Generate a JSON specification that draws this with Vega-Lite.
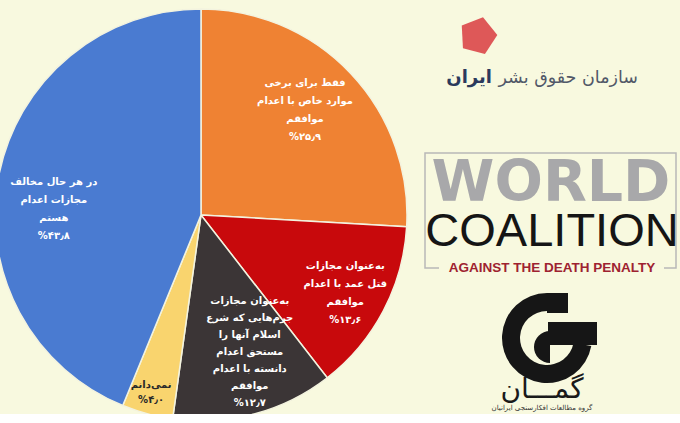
{
  "$schema": "https://vega.github.io/schema/vega-lite/v6.json",
  "background": "#ffffff",
  "padding": 0,
  "spacing": 0,
  "config": {"view": {"stroke": null, "fill": "#f8f9df"}},
  "hconcat": [
    {
      "width": 414,
      "height": 414,
      "data": {"values": [
        {"cat": "orange", "order": 1, "value": 25.9, "label": "فقط برای برخی\nموارد خاص با اعدام\nموافقم\n%۲۵٫۹"},
        {"cat": "red", "order": 2, "value": 13.6, "label": "به‌عنوان مجازات\nقتل عمد با اعدام\nموافقم\n%۱۳٫۶"},
        {"cat": "dark", "order": 3, "value": 12.7, "label": "به‌عنوان مجازات\nجرم‌هایی که شرع\nاسلام آنها را\nمستحق اعدام\nدانسته با اعدام\nموافقم\n%۱۲٫۷"},
        {"cat": "yellow", "order": 4, "value": 4.0, "label": "نمی‌دانم\n%۴٫۰"},
        {"cat": "blue", "order": 5, "value": 43.8, "label": "در هر حال مخالف\nمجازات اعدام\nهستم\n%۴۳٫۸"}
      ]},
      "encoding": {
        "x": {"datum": 201, "type": "quantitative", "scale": {"domain": [0, 414]}, "axis": null},
        "y": {"datum": 215, "type": "quantitative", "scale": {"domain": [0, 414], "reverse": true}, "axis": null},
        "theta": {"field": "value", "type": "quantitative", "stack": true},
        "order": {"field": "order", "type": "quantitative"}
      },
      "layer": [
        {
          "mark": {"type": "arc", "radius": 206, "stroke": "#f3f3df", "strokeWidth": 1.5, "clip": true},
          "encoding": {
            "color": {"field": "cat", "type": "nominal", "legend": null,
              "scale": {"domain": ["orange", "red", "dark", "yellow", "blue"],
                        "range": ["#ef8233", "#c8090c", "#3b3536", "#f9d46e", "#4a7bd1"]}}
          }
        },
        {
          "mark": {"type": "text", "radius": 150, "dx": -5, "dy": -29, "lineBreak": "\n", "font": "DejaVu Sans", "fontWeight": "bold", "fontSize": 10, "lineHeight": 18, "fill": "#ffffff", "baseline": "middle", "align": "center", "clip": true},
          "encoding": {"text": {"condition": {"test": "datum.cat === 'orange'", "field": "label"}, "value": ""}}
        },
        {
          "mark": {"type": "text", "radius": 150, "dy": -4, "lineBreak": "\n", "font": "DejaVu Sans", "fontWeight": "bold", "fontSize": 10, "lineHeight": 18, "fill": "#ffffff", "baseline": "middle", "align": "center", "clip": true},
          "encoding": {"text": {"condition": {"test": "datum.cat === 'blue'", "field": "label"}, "value": ""}}
        },
        {
          "mark": {"type": "text", "radius": 163, "dy": -25, "lineBreak": "\n", "font": "DejaVu Sans", "fontWeight": "bold", "fontSize": 10, "lineHeight": 18, "fill": "#ffffff", "baseline": "middle", "align": "center", "clip": true},
          "encoding": {"text": {"condition": {"test": "datum.cat === 'red'", "field": "label"}, "value": ""}}
        },
        {
          "mark": {"type": "text", "radius": 100, "dx": 23, "dy": -11, "lineBreak": "\n", "font": "DejaVu Sans", "fontWeight": "bold", "fontSize": 10, "lineHeight": 17, "fill": "#ffffff", "baseline": "middle", "align": "center", "clip": true},
          "encoding": {"text": {"condition": {"test": "datum.cat === 'dark'", "field": "label"}, "value": ""}}
        },
        {
          "mark": {"type": "text", "radius": 176, "dx": -4, "lineBreak": "\n", "font": "DejaVu Sans", "fontWeight": "bold", "fontSize": 10, "lineHeight": 15, "fill": "#2a2a2a", "baseline": "middle", "align": "center", "clip": true},
          "encoding": {"text": {"condition": {"test": "datum.cat === 'yellow'", "field": "label"}, "value": ""}}
        }
      ]
    },
    {
      "width": 266,
      "height": 414,
      "data": {"values": [{}]},
      "layer": [
        {
          "mark": {"type": "rect", "fill": null, "stroke": "#b8b8b8", "strokeWidth": 1.5},
          "encoding": {
            "x": {"datum": 11, "type": "quantitative", "scale": {"domain": [0, 266]}, "axis": null},
            "x2": {"datum": 262},
            "y": {"datum": 153, "type": "quantitative", "scale": {"domain": [0, 414], "reverse": true}, "axis": null},
            "y2": {"datum": 268}
          }
        },
        {
          "mark": {"type": "rect", "fill": "#f8f9df", "stroke": null},
          "encoding": {
            "x": {"datum": 25, "type": "quantitative", "scale": {"domain": [0, 266]}, "axis": null},
            "x2": {"datum": 250},
            "y": {"datum": 261, "type": "quantitative", "scale": {"domain": [0, 414], "reverse": true}, "axis": null},
            "y2": {"datum": 276}
          }
        },
        {
          "mark": {"type": "point", "shape": "M0,-1L0.951,-0.309L0.588,0.809L-0.588,0.809L-0.951,-0.309Z", "size": 1500, "angle": 15, "filled": true, "fill": "#de5858", "opacity": 1, "stroke": null},
          "encoding": {
            "x": {"datum": 64, "type": "quantitative", "scale": {"domain": [0, 266]}, "axis": null},
            "y": {"datum": 36, "type": "quantitative", "scale": {"domain": [0, 414], "reverse": true}, "axis": null}
          }
        },
        {
          "mark": {"type": "text", "text": "ایران", "font": "DejaVu Sans", "fontWeight": "bold", "fontSize": 18, "fill": "#2b3a5c", "align": "right", "baseline": "middle"},
          "encoding": {
            "x": {"datum": 78, "type": "quantitative", "scale": {"domain": [0, 266]}, "axis": null},
            "y": {"datum": 78, "type": "quantitative", "scale": {"domain": [0, 414], "reverse": true}, "axis": null}
          }
        },
        {
          "mark": {"type": "text", "text": "سازمان حقوق بشر", "font": "DejaVu Sans", "fontSize": 17.5, "fill": "#515868", "align": "right", "baseline": "middle"},
          "encoding": {
            "x": {"datum": 224, "type": "quantitative", "scale": {"domain": [0, 266]}, "axis": null},
            "y": {"datum": 78, "type": "quantitative", "scale": {"domain": [0, 414], "reverse": true}, "axis": null}
          }
        },
        {
          "mark": {"type": "text", "text": "WORLD", "font": "DejaVu Sans", "fontWeight": "bold", "fontSize": 57, "fill": "#a8a8aa", "align": "center", "baseline": "alphabetic"},
          "encoding": {
            "x": {"datum": 137, "type": "quantitative", "scale": {"domain": [0, 266]}, "axis": null},
            "y": {"datum": 201, "type": "quantitative", "scale": {"domain": [0, 414], "reverse": true}, "axis": null}
          }
        },
        {
          "mark": {"type": "text", "text": "COALITION", "font": "Liberation Sans", "fontSize": 47, "fill": "#151515", "align": "center", "baseline": "alphabetic"},
          "encoding": {
            "x": {"datum": 138, "type": "quantitative", "scale": {"domain": [0, 266]}, "axis": null},
            "y": {"datum": 246, "type": "quantitative", "scale": {"domain": [0, 414], "reverse": true}, "axis": null}
          }
        },
        {
          "mark": {"type": "text", "text": "AGAINST THE DEATH PENALTY", "font": "Liberation Sans", "fontWeight": "bold", "fontSize": 13.5, "fill": "#9e2230", "align": "center", "baseline": "middle"},
          "encoding": {
            "x": {"datum": 138, "type": "quantitative", "scale": {"domain": [0, 266]}, "axis": null},
            "y": {"datum": 268, "type": "quantitative", "scale": {"domain": [0, 414], "reverse": true}, "axis": null}
          }
        },
        {
          "mark": {"type": "arc", "theta": 1.75, "theta2": 6.2832, "radius": 45, "radius2": 27, "fill": "#161616"},
          "encoding": {
            "x": {"datum": 133, "type": "quantitative", "scale": {"domain": [0, 266]}, "axis": null},
            "y": {"datum": 338, "type": "quantitative", "scale": {"domain": [0, 414], "reverse": true}, "axis": null}
          }
        },
        {
          "mark": {"type": "arc", "theta": 3.1416, "theta2": 6.2832, "radius": 16, "fill": "#161616"},
          "encoding": {
            "x": {"datum": 136, "type": "quantitative", "scale": {"domain": [0, 266]}, "axis": null},
            "y": {"datum": 347, "type": "quantitative", "scale": {"domain": [0, 414], "reverse": true}, "axis": null}
          }
        },
        {
          "mark": {"type": "rect", "fill": "#161616"},
          "encoding": {
            "x": {"datum": 133, "type": "quantitative", "scale": {"domain": [0, 266]}, "axis": null},
            "x2": {"datum": 154},
            "y": {"datum": 293, "type": "quantitative", "scale": {"domain": [0, 414], "reverse": true}, "axis": null},
            "y2": {"datum": 313}
          }
        },
        {
          "mark": {"type": "rect", "fill": "#161616"},
          "encoding": {
            "x": {"datum": 134, "type": "quantitative", "scale": {"domain": [0, 266]}, "axis": null},
            "x2": {"datum": 183},
            "y": {"datum": 322, "type": "quantitative", "scale": {"domain": [0, 414], "reverse": true}, "axis": null},
            "y2": {"datum": 345}
          }
        },
        {
          "mark": {"type": "text", "text": "گمـــان", "font": "DejaVu Sans", "fontSize": 28, "fill": "#1a1a1a", "align": "center", "baseline": "middle"},
          "encoding": {
            "x": {"datum": 128, "type": "quantitative", "scale": {"domain": [0, 266]}, "axis": null},
            "y": {"datum": 390, "type": "quantitative", "scale": {"domain": [0, 414], "reverse": true}, "axis": null}
          }
        },
        {
          "mark": {"type": "text", "text": "گروه مطالعات افکارسنجی ایرانیان", "font": "DejaVu Sans", "fontSize": 7, "fill": "#333333", "align": "center", "baseline": "middle"},
          "encoding": {
            "x": {"datum": 128, "type": "quantitative", "scale": {"domain": [0, 266]}, "axis": null},
            "y": {"datum": 408, "type": "quantitative", "scale": {"domain": [0, 414], "reverse": true}, "axis": null}
          }
        }
      ]
    }
  ]
}
